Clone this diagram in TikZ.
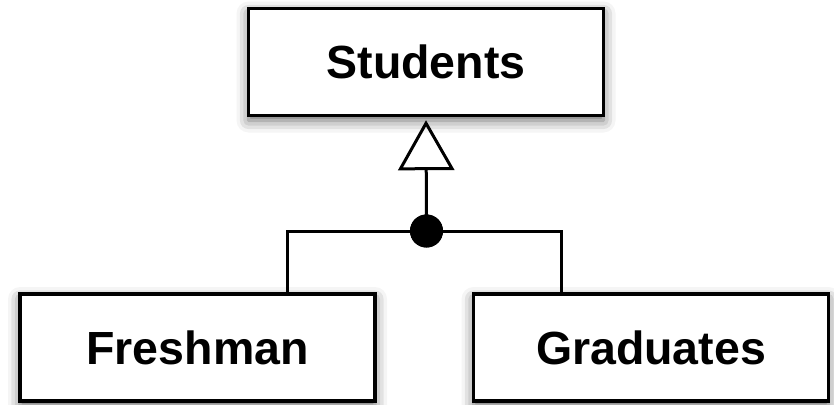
\documentclass[tikz,border=0pt]{standalone}
\usepackage{fontspec}
\setmainfont{Liberation Sans}
\usetikzlibrary{arrows.meta,shadows.blur}
\begin{document}
\begin{tikzpicture}[x=1pt,y=-1pt,
  entity/.style={draw=black, line width=3.4pt, fill=white, minimum width=355pt, minimum height=107pt,
    inner sep=0pt, font=\fontsize{46.5}{50}\selectfont\bfseries,
    blur shadow={shadow xshift=0pt, shadow yshift=-5pt, shadow blur radius=12pt, shadow opacity=60}},
  conn/.style={line width=3pt},
  jdot/.style={circle, fill=black, minimum size=33pt, inner sep=0pt}
]
\useasboundingbox (0,0) rectangle (834,404);
\node[entity] (S) at (426,62) {Students};
\node[entity] (F) at (197.5,347.5) {Freshman};
\node[entity] (G) at (651,347.5) {Graduates};
\node[jdot] (j) at (426.5,231) {};
\draw[conn, -{Triangle[open, length=50pt, width=56pt, line width=3pt]}, shorten >=3pt] (j.center) -- (S.south);
\draw[conn] ([xshift=89.5pt]F.north) |- (j.center);
\draw[conn] ([xshift=-90pt]G.north) |- (j.center);
\node[jdot] at (j) {};
\end{tikzpicture}
\end{document}
